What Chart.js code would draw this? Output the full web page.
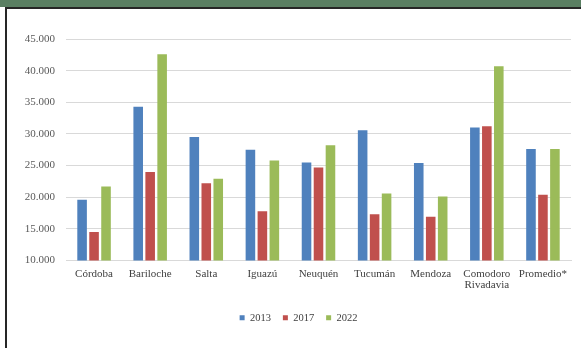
<!DOCTYPE html>
<html>
<head>
<meta charset="utf-8">
<script src="https://cdn.jsdelivr.net/npm/chart.js@4/dist/chart.umd.min.js"></script>
<style>
  html, body { margin: 0; padding: 0; background: #fff; }
  #page { position: relative; width: 581px; height: 348px; overflow: hidden; background: #fff; }
  #band { position: absolute; left: 0; top: 0; width: 581px; height: 7px; background: #5a7f62; }
  #topRule { position: absolute; left: 5px; top: 7px; width: 576px; height: 2px; background: #262626; }
  #leftRule { position: absolute; left: 5px; top: 7px; width: 2px; height: 341px; background: #262626; }
  #wrap { position: absolute; left: 7px; top: 9px; width: 574px; height: 339px; }
</style>
</head>
<body>
<div id="page">
  <div id="band"></div>
  <div id="topRule"></div>
  <div id="leftRule"></div>
  <div id="wrap"><canvas id="tarifas"></canvas></div>
</div>
<script>
// ciudades y valores por año
const ciudades = ['Córdoba', 'Bariloche', 'Salta', 'Iguazú', 'Neuquén', 'Tucumán', 'Mendoza', ['Comodoro', 'Rivadavia'], 'Promedio*'];
const valores2013 = [19600, 34300, 29500, 27500, 25500, 30600, 25400, 31000, 27600];
const valores2017 = [14500, 24000, 22200, 17800, 24700, 17300, 16900, 31200, 20400];
const valores2022 = [21700, 42600, 22900, 25800, 28200, 20600, 20100, 40700, 27600];
const anios = ['2013', '2017', '2022'];
const colores = ['#4f81bd', '#c0504d', '#9bbb59'];

const serif = 'Liberation Serif, Times New Roman, serif';

// 45000 -> "45.000"
const miles = v => String(v).replace(/\B(?=(\d{3})+(?!\d))/g, '.');

const series = [valores2013, valores2017, valores2022];

// la leyenda va un poco a la izquierda del centro del área de barras
const posLeyenda = {
  id: 'posLeyenda',
  afterLayout(chart) {
    const lg = chart.legend;
    const dx = (chart.chartArea.left + chart.chartArea.right) / 2 - (lg.left + lg.right) / 2 - 20;
    lg.left += dx;
    lg.right += dx;
  }
};

new Chart(document.getElementById('tarifas'), {
  type: 'bar',
  data: {
    labels: ciudades,
    datasets: series.map((vals, i) => ({
      label: anios[i],
      data: vals,
      backgroundColor: colores[i],
      borderWidth: 0,
      categoryPercentage: 0.64,
      barPercentage: 0.8
    }))
  },
  options: {
    responsive: true,
    maintainAspectRatio: false,
    animation: false,
    layout: { padding: { left: 10, right: 10, top: 30, bottom: 15 } },
    scales: {
      x: {
        grid: { display: false, drawTicks: false },
        border: { display: true, color: '#d9d9d9', width: 1 },
        ticks: { color: '#404040', padding: 8, maxRotation: 0, autoSkip: false, font: { family: serif, size: 11, lineHeight: 1.0 } },
        afterFit: s => { s.height = 40; }
      },
      y: {
        min: 10000,
        max: 45000,
        grid: { color: '#d9d9d9', lineWidth: 1, drawTicks: false },
        border: { display: false },
        ticks: { stepSize: 5000, color: '#595959', padding: 11, font: { family: serif, size: 11 }, callback: v => miles(v) },
        afterFit: s => { s.width = 49; }
      }
    },
    plugins: {
      tooltip: { enabled: false },
      legend: {
        position: 'bottom',
        labels: { boxWidth: 5, boxHeight: 5, padding: 12, color: '#404040', font: { family: serif, size: 10.5 } }
      }
    }
  },
  plugins: [posLeyenda]
});
</script>
</body>
</html>
